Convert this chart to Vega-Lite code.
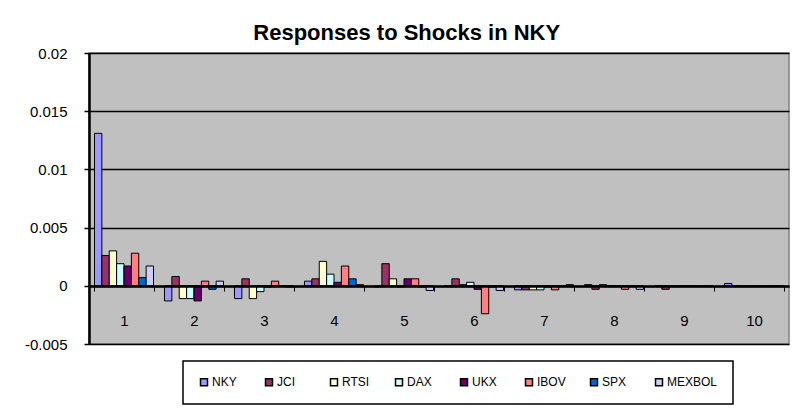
{
  "$schema": "https://vega.github.io/schema/vega-lite/v6.json",
  "width": 700,
  "height": 291,
  "autosize": {"type": "none"},
  "padding": {"left": 89, "top": 53, "right": 19, "bottom": 69},
  "background": "white",
  "title": {"text": "Responses to Shocks in NKY", "font": "Liberation Sans", "fontSize": 22, "fontWeight": "bold", "anchor": "middle", "frame": "bounds", "offset": 1, "color": "black"},
  "data": {"values": [
    {"period": 1, "series": "NKY", "value": 0.0131},
    {"period": 1, "series": "JCI", "value": 0.0026},
    {"period": 1, "series": "RTSI", "value": 0.0030},
    {"period": 1, "series": "DAX", "value": 0.0019},
    {"period": 1, "series": "UKX", "value": 0.0017},
    {"period": 1, "series": "IBOV", "value": 0.0028},
    {"period": 1, "series": "SPX", "value": 0.0007},
    {"period": 1, "series": "MEXBOL", "value": 0.0017},
    {"period": 2, "series": "NKY", "value": -0.0013},
    {"period": 2, "series": "JCI", "value": 0.0008},
    {"period": 2, "series": "RTSI", "value": -0.0011},
    {"period": 2, "series": "DAX", "value": -0.0011},
    {"period": 2, "series": "UKX", "value": -0.0013},
    {"period": 2, "series": "IBOV", "value": 0.0004},
    {"period": 2, "series": "SPX", "value": -0.0003},
    {"period": 2, "series": "MEXBOL", "value": 0.0004},
    {"period": 3, "series": "NKY", "value": -0.0011},
    {"period": 3, "series": "JCI", "value": 0.0006},
    {"period": 3, "series": "RTSI", "value": -0.0011},
    {"period": 3, "series": "DAX", "value": -0.0005},
    {"period": 3, "series": "UKX", "value": -0.0001},
    {"period": 3, "series": "IBOV", "value": 0.0004},
    {"period": 3, "series": "SPX", "value": -0.00005},
    {"period": 3, "series": "MEXBOL", "value": -0.0001},
    {"period": 4, "series": "NKY", "value": 0.0004},
    {"period": 4, "series": "JCI", "value": 0.0006},
    {"period": 4, "series": "RTSI", "value": 0.0021},
    {"period": 4, "series": "DAX", "value": 0.0010},
    {"period": 4, "series": "UKX", "value": 0.0003},
    {"period": 4, "series": "IBOV", "value": 0.0017},
    {"period": 4, "series": "SPX", "value": 0.0006},
    {"period": 4, "series": "MEXBOL", "value": 0.0001},
    {"period": 5, "series": "NKY", "value": -0.0001},
    {"period": 5, "series": "JCI", "value": 0.0019},
    {"period": 5, "series": "RTSI", "value": 0.0006},
    {"period": 5, "series": "DAX", "value": -0.0001},
    {"period": 5, "series": "UKX", "value": 0.0006},
    {"period": 5, "series": "IBOV", "value": 0.0006},
    {"period": 5, "series": "SPX", "value": -0.0001},
    {"period": 5, "series": "MEXBOL", "value": -0.0004},
    {"period": 6, "series": "NKY", "value": -0.00005},
    {"period": 6, "series": "JCI", "value": 0.0006},
    {"period": 6, "series": "RTSI", "value": 0.0001},
    {"period": 6, "series": "DAX", "value": 0.0003},
    {"period": 6, "series": "UKX", "value": -0.0003},
    {"period": 6, "series": "IBOV", "value": -0.0024},
    {"period": 6, "series": "SPX", "value": -0.0001},
    {"period": 6, "series": "MEXBOL", "value": -0.0004},
    {"period": 7, "series": "NKY", "value": -0.00035},
    {"period": 7, "series": "JCI", "value": -0.00035},
    {"period": 7, "series": "RTSI", "value": -0.00035},
    {"period": 7, "series": "DAX", "value": -0.00035},
    {"period": 7, "series": "UKX", "value": -0.0001},
    {"period": 7, "series": "IBOV", "value": -0.00035},
    {"period": 7, "series": "SPX", "value": -0.00005},
    {"period": 7, "series": "MEXBOL", "value": 0.0001},
    {"period": 8, "series": "NKY", "value": 0.0001},
    {"period": 8, "series": "JCI", "value": -0.0003},
    {"period": 8, "series": "RTSI", "value": 0.0001},
    {"period": 8, "series": "DAX", "value": -0.00005},
    {"period": 8, "series": "UKX", "value": -0.00005},
    {"period": 8, "series": "IBOV", "value": -0.0003},
    {"period": 8, "series": "SPX", "value": -0.00005},
    {"period": 8, "series": "MEXBOL", "value": -0.0003},
    {"period": 9, "series": "NKY", "value": -0.00005},
    {"period": 9, "series": "JCI", "value": -0.0003},
    {"period": 9, "series": "RTSI", "value": -0.00005},
    {"period": 9, "series": "DAX", "value": -0.00005},
    {"period": 9, "series": "UKX", "value": -0.00005},
    {"period": 9, "series": "IBOV", "value": -0.00005},
    {"period": 9, "series": "SPX", "value": -0.00005},
    {"period": 9, "series": "MEXBOL", "value": -0.00005},
    {"period": 10, "series": "NKY", "value": 0.0002},
    {"period": 10, "series": "JCI", "value": -0.00005},
    {"period": 10, "series": "RTSI", "value": -0.00005},
    {"period": 10, "series": "DAX", "value": -0.00005},
    {"period": 10, "series": "UKX", "value": -0.00005},
    {"period": 10, "series": "IBOV", "value": -0.00005},
    {"period": 10, "series": "SPX", "value": -0.00005},
    {"period": 10, "series": "MEXBOL", "value": -0.00005}
  ]},
  "mark": {"type": "bar", "stroke": "black", "strokeWidth": 1},
  "encoding": {
    "x": {
      "field": "period", "type": "ordinal",
      "scale": {"paddingInner": 0.157, "paddingOuter": 0.0785},
      "axis": {"title": null, "orient": "bottom", "offset": -58, "zindex": 1, "domainColor": "black", "domainWidth": 2.5, "ticks": true, "tickBand": "extent", "tickColor": "black", "tickSize": 5, "tickWidth": 1, "labelPadding": 22, "labelFontSize": 15, "labelFont": "Liberation Sans", "labelColor": "black", "labelAngle": 0, "grid": false}
    },
    "xOffset": {"field": "series", "type": "nominal", "sort": ["NKY", "JCI", "RTSI", "DAX", "UKX", "IBOV", "SPX", "MEXBOL"], "scale": {"paddingInner": 0, "paddingOuter": 0}},
    "y": {
      "field": "value", "type": "quantitative",
      "scale": {"domain": [-0.005, 0.02], "nice": false},
      "axis": {"title": null, "values": [-0.005, 0, 0.005, 0.01, 0.015, 0.02], "labelExpr": "'' + datum.value", "grid": true, "gridColor": "black", "gridWidth": 1.5, "domainColor": "black", "domainWidth": 2.5, "tickColor": "black", "tickSize": 5, "tickWidth": 1.5, "labelPadding": 17, "labelFontSize": 15, "labelFont": "Liberation Sans", "labelColor": "black",
        "encode": {"grid": {"update": {"strokeOpacity": {"signal": "datum.value == 0.02 || datum.value == -0.005 || datum.value == 0 ? 0 : 1"}}}}}
    },
    "color": {
      "field": "series", "type": "nominal",
      "scale": {"domain": ["NKY", "JCI", "RTSI", "DAX", "UKX", "IBOV", "SPX", "MEXBOL"], "range": ["#9999FF", "#993366", "#FFFFCC", "#CCFFFF", "#660066", "#FF8080", "#0066CC", "#CCCCFF"]},
      "legend": {"title": null, "orient": "none", "legendX": 94, "legendY": 308, "direction": "horizontal", "columns": 8, "gridAlign": "all", "columnPadding": -8, "symbolType": "square", "symbolSize": 49, "symbolStrokeColor": "black", "symbolStrokeWidth": 1.5, "symbolOpacity": 1, "labelFontSize": 12, "labelFont": "Liberation Sans", "labelColor": "black", "labelOffset": 2, "padding": 15, "strokeColor": "black", "fillColor": "white",
        "encode": {"legend": {"update": {"strokeWidth": {"value": 1.5}}}}}
    }
  },
  "config": {"view": {"fill": "#C0C0C0", "stroke": "#808080", "strokeWidth": 1.5}, "font": "Liberation Sans"}
}
